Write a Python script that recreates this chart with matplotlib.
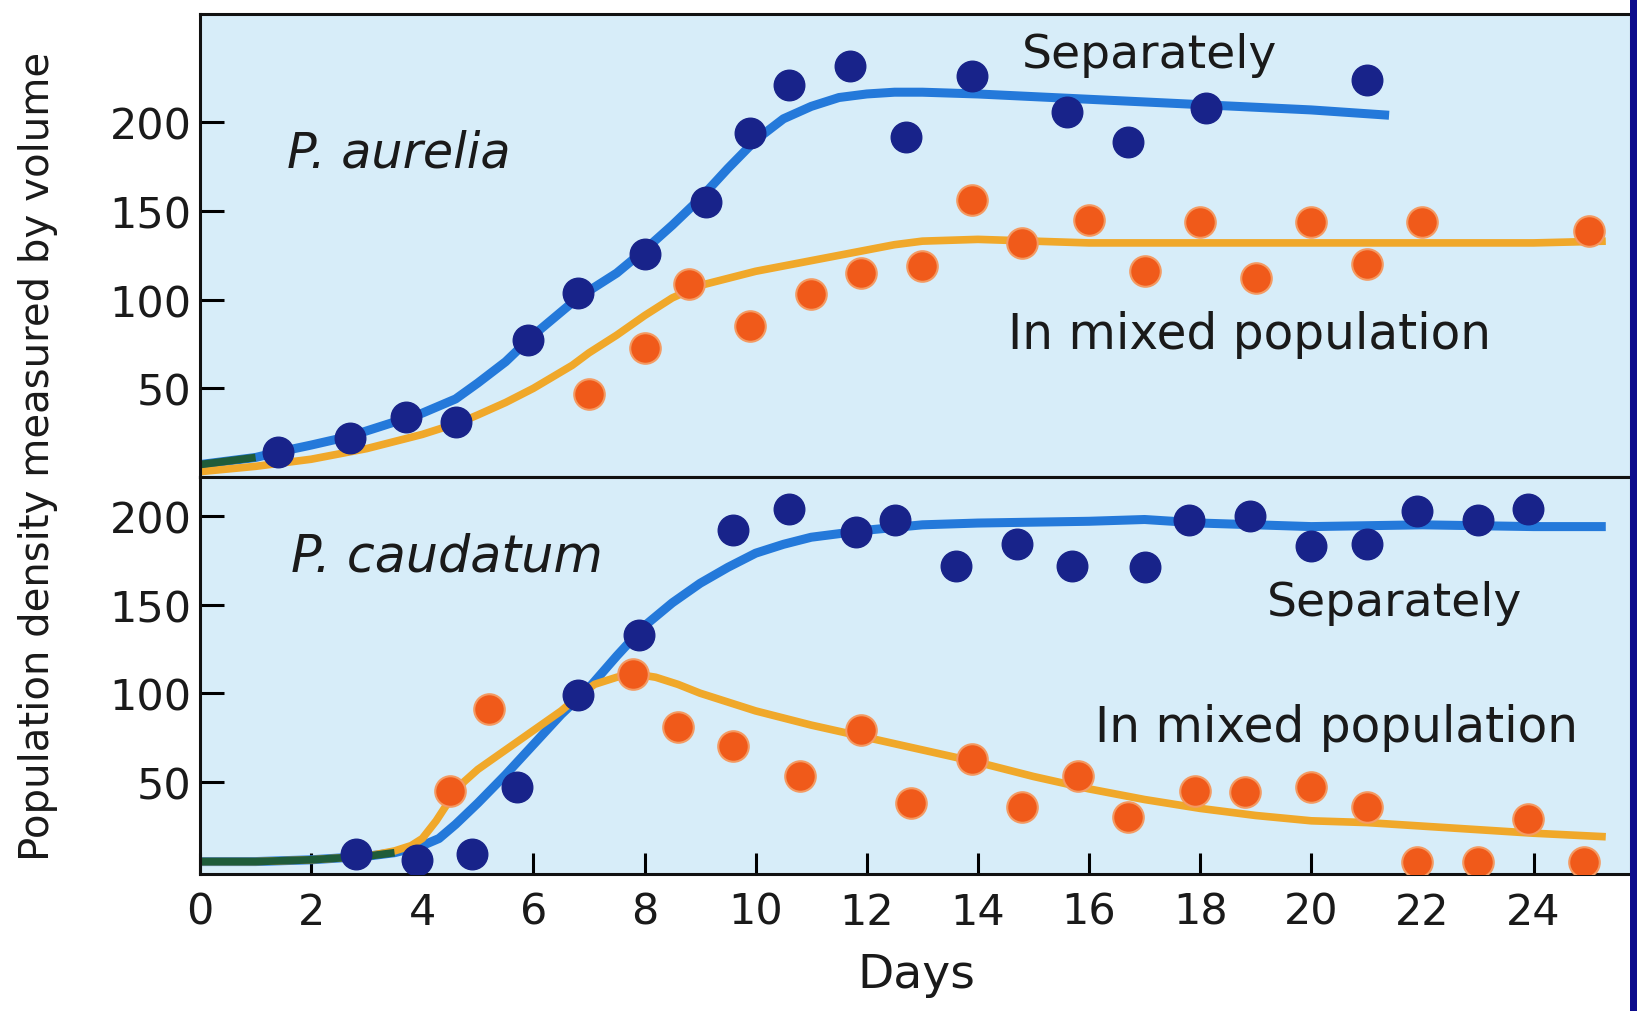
import numpy as np
import matplotlib.pyplot as plt
from matplotlib.patches import Rectangle

# ---- P. aurelia (top panel) ----
# grown separately: observed points
aur_sep_day = [1.4, 2.7, 3.7, 4.6, 5.9, 6.8, 8.0, 9.1, 9.9, 10.6, 11.7, 12.7, 13.9, 15.6, 16.7, 18.1, 21.0]
aur_sep_val = [14, 22, 34, 31, 77, 104, 126, 155, 194, 221, 232, 192, 226, 206, 189, 208, 224]
# grown separately: fitted curve
aur_sep_cday = [0, 1, 1.4, 2, 2.7, 3.2, 3.6, 4, 4.6, 5, 5.5, 6, 6.8, 7.5, 8, 8.5, 9, 9.5, 10, 10.5, 11, 11.5, 12, 12.5, 13, 14, 16, 18, 20, 21.4]
aur_sep_cval = [7, 11, 14, 18, 23, 28, 32, 36, 44, 53, 65, 80, 101, 115, 128, 142, 157, 174, 190, 202, 209, 214, 216, 217, 217, 216, 213, 210, 207, 204]

# mixed population: observed points
aur_mix_day = [7.0, 8.0, 8.8, 9.9, 11.0, 11.9, 13.0, 13.9, 14.8, 16.0, 17.0, 18.0, 19.0, 20.0, 21.0, 22.0, 25.0]
aur_mix_val = [47, 73, 109, 85, 103, 115, 119, 156, 132, 145, 116, 144, 112, 144, 120, 144, 139]
# mixed population: curve
aur_mix_cday = [0, 1, 2, 3, 4, 4.7, 5, 5.5, 6, 6.7, 7, 7.5, 8, 8.5, 9, 9.5, 10, 11, 12, 12.5, 13, 14, 16, 18, 20, 22, 24, 25.3]
aur_mix_cval = [3, 6, 10, 16, 24, 31, 35, 42, 50, 63, 70, 80, 91, 101, 108, 112, 116, 122, 128, 131, 133, 134, 132, 132, 132, 132, 132, 133]

# ---- P. caudatum (bottom panel) ----
cau_sep_day = [2.8, 3.9, 4.9, 5.7, 6.8, 7.9, 9.6, 10.6, 11.8, 12.5, 13.6, 14.7, 15.7, 17.0, 17.8, 18.9, 20.0, 21.0, 21.9, 23.0, 23.9]
cau_sep_val = [9, 6, 9, 47, 99, 133, 192, 204, 191, 198, 172, 184, 172, 171, 198, 200, 183, 184, 203, 198, 204]
cau_sep_cday = [0, 1, 2, 3, 3.5, 4, 4.3, 4.6, 5, 5.5, 6, 6.5, 7, 7.5, 8, 8.5, 9, 9.5, 10, 10.5, 11, 11.5, 12, 13, 14, 16, 17, 18, 20, 22, 24, 25.3]
cau_sep_cval = [5, 5, 6, 8, 10, 14, 18, 26, 38, 54, 71, 88, 103, 121, 138, 151, 162, 171, 179, 184, 188, 190, 192, 195, 196, 197, 198, 196, 194, 195, 194, 194]

cau_mix_day = [4.5, 5.2, 7.8, 8.6, 9.6, 10.8, 11.9, 12.8, 13.9, 14.8, 15.8, 16.7, 17.9, 18.8, 20.0, 21.0, 21.9, 23.0, 23.9, 24.9]
cau_mix_val = [45, 91, 111, 81, 70, 53, 79, 38, 63, 36, 53, 30, 45, 44, 47, 36, 5, 5, 29, 5]
cau_mix_cday = [0, 1, 2, 3, 3.5, 3.8, 4, 4.25, 4.5, 4.75, 5, 5.5, 6, 6.5, 6.8, 7.1, 7.5, 7.8, 8.2, 8.6, 9, 10, 11, 12, 13, 14, 15, 16, 17, 18, 19, 20, 21, 22, 23, 24, 25.3]
cau_mix_cval = [5, 5, 6, 8, 11, 14, 18, 28, 40, 50, 57, 68, 79, 90, 98, 105, 109, 111, 109, 105, 100, 90, 82, 75, 68, 61, 53, 46, 40, 35, 31, 28, 27, 25, 23, 21, 19]

x_ticks = list(range(0, 25, 2))
y_ticks = [50, 100, 150, 200]

bg = '#d7edf9'
line_blue = '#2479da'
line_orange = '#f0a82a'
dot_blue = '#18238a'
dot_orange = '#f05a1a'
overlap_green = '#1f5c3a'
txt = '#1a1a1a'

fig = plt.figure(figsize=(16.37, 10.12), dpi=100)
fig.patch.set_facecolor('white')

ax1 = fig.add_axes([0.1222, 0.5277, 0.8740, 0.4573])
ax2 = fig.add_axes([0.1222, 0.1354, 0.8740, 0.3923])

# dark strip on the right edge of the slide
fig.patches.append(Rectangle((0.9955, 0), 0.006, 1, transform=fig.transFigure,
                             facecolor='#0c0c8c', edgecolor='none'))


def draw_panel(ax, sep_cd, sep_cv, mix_cd, mix_cv, sep_d, sep_v, mix_d, mix_v, green_upto):
    ax.set_facecolor(bg)
    ax.plot(sep_cd, sep_cv, color=line_blue, lw=6.5, solid_capstyle='butt',
            solid_joinstyle='round', zorder=2)
    ax.plot(mix_cd, mix_cv, color=line_orange, lw=5.5, solid_capstyle='butt',
            solid_joinstyle='round', zorder=2.1)
    # blue and orange printed over each other -> dark green start
    n = sum(1 for d in sep_cd if d <= green_upto)
    ax.plot(sep_cd[:n], sep_cv[:n], color=overlap_green, lw=5.5, solid_capstyle='butt',
            solid_joinstyle='round', zorder=2.2)
    ax.plot(mix_d, mix_v, 'o', ms=22, color=dot_orange, mec='#f49a62', mew=1.5, zorder=3)
    ax.plot(sep_d, sep_v, 'o', ms=22, color=dot_blue, mec=dot_blue, zorder=3.1)
    ax.set_xlim(0, 25.75)
    ax.set_yticks(y_ticks)
    ax.tick_params(axis='y', direction='in', length=17, width=2.2, pad=6,
                   labelsize=31, labelcolor=txt)
    for s in ax.spines.values():
        s.set_linewidth(2.2)
        s.set_color('#111111')


draw_panel(ax1, aur_sep_cday, aur_sep_cval, aur_mix_cday, aur_mix_cval,
           aur_sep_day, aur_sep_val, aur_mix_day, aur_mix_val, 1.0)
draw_panel(ax2, cau_sep_cday, cau_sep_cval, cau_mix_cday, cau_mix_cval,
           cau_sep_day, cau_sep_val, cau_mix_day, cau_mix_val, 3.7)

ax1.set_ylim(0, 261)
ax1.set_xticks([])
ax2.set_ylim(-2, 222)
ax2.set_xticks(x_ticks)
ax2.tick_params(axis='x', direction='in', length=15, width=2.2, pad=12,
                labelsize=31, labelcolor=txt)

# annotations
ax1.text(14.8, 231, 'Separately', fontsize=34, color=txt, va='baseline')
ax1.text(14.55, 73, 'In mixed population', fontsize=35, color=txt, va='baseline')
ax1.text(1.57, 175, 'P. aurelia', fontsize=35.5, style='italic', color=txt, va='baseline')
ax2.text(1.63, 169, 'P. caudatum', fontsize=36.5, style='italic', color=txt, va='baseline')
ax2.text(19.2, 144, 'Separately', fontsize=34, color=txt, va='baseline')
ax2.text(16.1, 73, 'In mixed population', fontsize=35, color=txt, va='baseline')

fig.text(0.023, 0.549, 'Population density measured by volume', rotation=90,
         fontsize=29, color=txt, ha='center', va='center')
fig.text(0.5595, 0.036, 'Days', fontsize=34, color=txt, ha='center', va='center')

fig.savefig('out.png', dpi=100)
